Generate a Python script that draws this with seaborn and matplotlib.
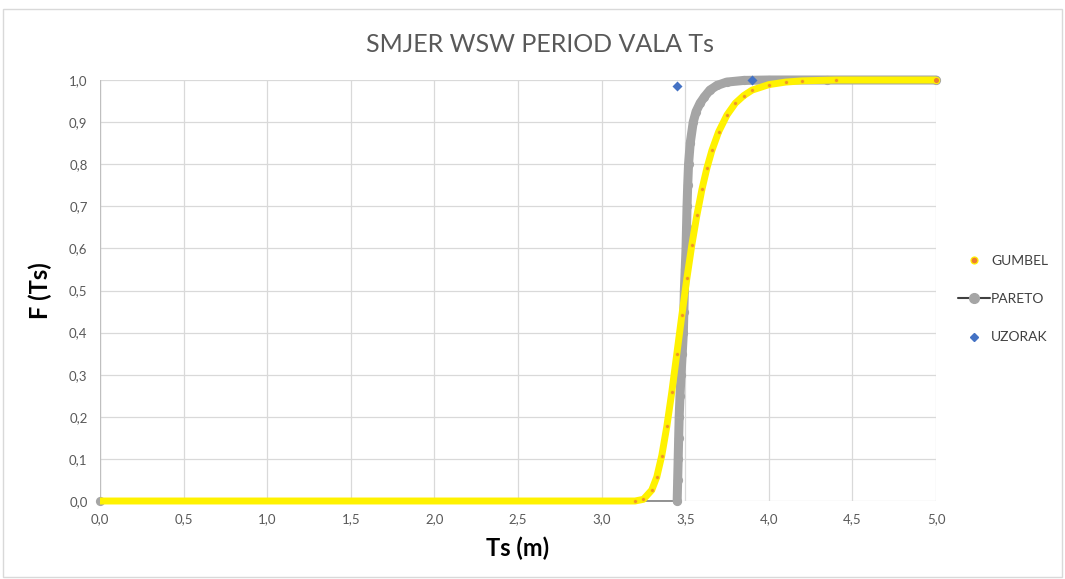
import matplotlib
matplotlib.use("Agg")
import matplotlib.pyplot as plt
import seaborn as sns
import pandas as pd
from matplotlib.lines import Line2D
from matplotlib.patches import Rectangle
from matplotlib.ticker import FuncFormatter

# Gumbel distribution function F(Ts)
ts_gumbel = [0.00, 3.20, 3.25, 3.30, 3.33, 3.36, 3.39, 3.42, 3.45, 3.48, 3.51,
             3.54, 3.57, 3.60, 3.63, 3.66, 3.70, 3.75, 3.80, 3.85, 3.90, 4.00,
             4.10, 4.20, 4.40, 5.00]
f_gumbel = [0.000, 0.000, 0.004, 0.026, 0.057, 0.108, 0.177, 0.259, 0.350, 0.441,
            0.529, 0.609, 0.679, 0.740, 0.791, 0.833, 0.877, 0.917, 0.945, 0.963,
            0.976, 0.989, 0.995, 0.998, 1.000, 1.000]

# Pareto distribution function F(Ts)
ts_pareto = [0.000, 3.452, 3.455, 3.458, 3.461, 3.464, 3.469, 3.475, 3.482, 3.489,
             3.492, 3.495, 3.500, 3.505, 3.508, 3.511, 3.515, 3.520, 3.530, 3.548,
             3.565, 3.589, 3.615, 3.648, 3.690, 3.748, 3.850, 4.000, 4.350, 5.000]
f_pareto = [0.000, 0.000, 0.050, 0.100, 0.150, 0.200, 0.250, 0.300, 0.350, 0.400,
            0.450, 0.500, 0.550, 0.600, 0.650, 0.700, 0.750, 0.800, 0.850, 0.900,
            0.925, 0.945, 0.960, 0.976, 0.987, 0.995, 0.999, 1.000, 1.000, 1.000]

# Sample (empirical) points
ts_uzorak = [3.45, 3.90]
f_uzorak = [0.985, 1.000]

x_ticks = [0.0, 0.5, 1.0, 1.5, 2.0, 2.5, 3.0, 3.5, 4.0, 4.5, 5.0]
y_ticks = [0.0, 0.1, 0.2, 0.3, 0.4, 0.5, 0.6, 0.7, 0.8, 0.9, 1.0]

title = "SMJER WSW PERIOD VALA Ts"
labels = ["GUMBEL", "PARETO", "UZORAK"]

gumbel = pd.DataFrame({"Ts": ts_gumbel, "F": f_gumbel})
pareto = pd.DataFrame({"Ts": ts_pareto, "F": f_pareto})
uzorak = pd.DataFrame({"Ts": ts_uzorak, "F": f_uzorak})

sns.set_theme(style="white")
plt.rcParams["font.family"] = ["Lato", "DejaVu Sans"]

C_YELLOW = "#FFF200"
C_ORANGE = "#ED7D31"
C_GRAY = "#A5A5A5"
C_BLUE = "#4472C4"
C_TEXT = "#595959"

fig = plt.figure(figsize=(10.65, 5.79), dpi=100)
ax = fig.add_axes([100 / 1065, 1 - 501 / 579, 836 / 1065, 421 / 579])

# Pareto: thin connecting line, thick band of markers
sns.lineplot(data=pareto, x="Ts", y="F", ax=ax, sort=False, estimator=None,
             color="#404040", lw=0.8, zorder=2.9, legend=False, clip_on=False)
sns.lineplot(data=pareto.iloc[1:], x="Ts", y="F", ax=ax, sort=False, estimator=None,
             color=C_GRAY, lw=6.5, zorder=3, legend=False, clip_on=False,
             solid_capstyle="round", solid_joinstyle="round")
sns.scatterplot(data=pareto, x="Ts", y="F", ax=ax, color=C_GRAY, s=44,
                linewidth=0, zorder=3.1, legend=False, clip_on=False)

# Gumbel: yellow band with orange markers
sns.lineplot(data=gumbel, x="Ts", y="F", ax=ax, sort=False, estimator=None,
             color=C_YELLOW, lw=5, zorder=4, legend=False, clip_on=False,
             solid_capstyle="butt", solid_joinstyle="round")
sns.scatterplot(data=gumbel.iloc[1:], x="Ts", y="F", ax=ax, color=C_ORANGE, s=8,
                edgecolor=C_YELLOW, linewidth=0.6, zorder=4.1, legend=False,
                clip_on=False, alpha=0.8)
sns.scatterplot(data=gumbel.iloc[-1:], x="Ts", y="F", ax=ax, color=C_ORANGE, s=20,
                edgecolor=C_YELLOW, linewidth=0.8, zorder=4.2, legend=False,
                clip_on=False)

# Sample points
sns.scatterplot(data=uzorak, x="Ts", y="F", ax=ax, color=C_BLUE, marker="D",
                s=26, linewidth=0, zorder=5, legend=False, clip_on=False)

ax.set_xlim(0, 5)
ax.set_ylim(0, 1)
ax.set_xticks(x_ticks)
ax.set_yticks(y_ticks)
fmt = FuncFormatter(lambda v, p: f"{v:.1f}".replace(".", ","))
ax.xaxis.set_major_formatter(fmt)
ax.yaxis.set_major_formatter(fmt)
ax.tick_params(axis="both", length=0, labelsize=9.5, labelcolor=C_TEXT)
ax.tick_params(axis="y", pad=9)
ax.tick_params(axis="x", pad=9)
ax.grid(True, color="#D9D9D9", lw=0.9, zorder=0)
ax.set_axisbelow(True)
for s in ax.spines.values():
    s.set_visible(False)
ax.axvline(0, color="#BFBFBF", lw=0.9, zorder=1)

ax.set_xlabel("Ts (m)", fontsize=17, fontweight="bold", color="black", labelpad=8)
ax.set_ylabel("F (Ts)", fontsize=17, fontweight="bold", color="black", labelpad=12)

fig.text(540 / 1065, 1 - 44 / 579, title, ha="center", va="center",
         fontsize=18, color=C_TEXT)

handles = [
    Line2D([], [], ls="none", marker="o", markersize=5, markerfacecolor=C_ORANGE,
           markeredgecolor=C_YELLOW, markeredgewidth=0.9),
    Line2D([], [], color="#404040", lw=1.5, marker="o", markersize=7,
           markerfacecolor=C_GRAY, markeredgecolor=C_GRAY),
    Line2D([], [], ls="none", marker="D", markersize=4.5, markerfacecolor=C_BLUE,
           markeredgecolor=C_BLUE),
]
leg = fig.legend(handles, labels, loc="center left",
                 bbox_to_anchor=(952 / 1065, 1 - 299 / 579), frameon=False,
                 fontsize=10, labelspacing=1.9, handlelength=2.3,
                 handletextpad=0.1, borderaxespad=0)
for t in leg.get_texts():
    t.set_color("#404040")

fig.patches.append(Rectangle((3 / 1065, 2 / 579), 1059 / 1065, 1 - 11 / 579,
                             transform=fig.transFigure, fill=False,
                             edgecolor="#D9D9D9", lw=1))

fig.savefig("out.png", dpi=100)
